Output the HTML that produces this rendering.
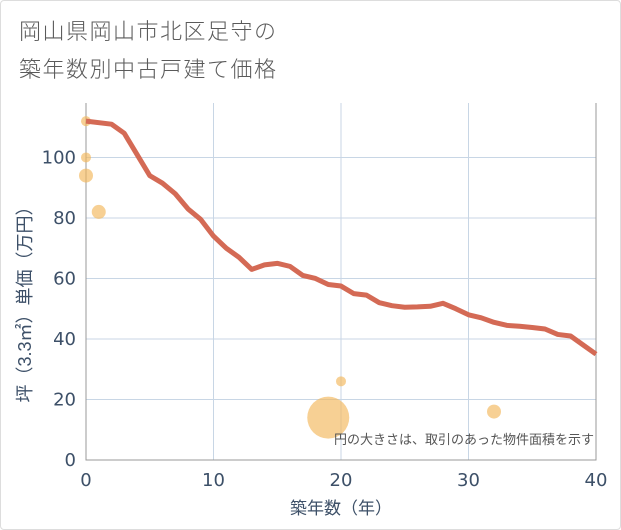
<!DOCTYPE html>
<html><head><meta charset="utf-8"><style>
body{margin:0;background:#fff;font-family:"Liberation Sans","Noto Sans CJK JP",sans-serif}
#wrap{position:relative;width:619px;height:528px;border:1px solid #ddd;border-radius:4px;overflow:hidden}
.t{position:absolute;left:18px;font-size:22px;color:#5a5a5a;letter-spacing:1.5px;font-weight:300}
</style></head><body>
<div id="wrap">
<div class="t" style="top:13px">岡山県岡山市北区足守の</div>
<div class="t" style="top:51px">築年数別中古戸建て価格</div>
<svg id="c" width="621" height="530" style="position:absolute;left:-1px;top:-1px"></svg>
</div>
<script>
const years=[0,2,3,4,5,6,7,8,9,10,11,12,13,14,15,16,17,18,19,20,21,22,23,24,25,26,27,28,29,30,31,32,33,34,35,36,37,38,39,40];
const prices=[112,111,108,101,94,91.5,88,83,79.5,74,70,67,63,64.5,65,64,61,60,58,57.5,55,54.5,52,51,50.5,50.6,50.8,51.8,50,48,47,45.5,44.5,44.2,43.8,43.3,41.5,41,38,35];
const bx=[0,0,0,1,19,20,32];
const by=[112,100,94,82,14,26,16];
const br=[5,5,7,7,21,5,7];
const xTicks=[0,10,20,30,40];
const yTicks=[0,20,40,60,80,100];
const L=86,R=596,T=103,B=460;
const X=v=>L+(R-L)*v/40, Y=v=>B-(B-T)*v/118;
const s=document.getElementById('c'),NS='http://www.w3.org/2000/svg';
function mk(t,a,p){const e=document.createElementNS(NS,t);for(const k in a)e.setAttribute(k,a[k]);(p||s).appendChild(e);return e;}
xTicks.forEach(v=>{const l=mk('line',{x1:X(v),x2:X(v),y1:T,y2:B,stroke:'#c8d6e5'});


const t=mk('text',{x:X(v),y:B+26,'text-anchor':'middle','font-size':18,fill:'#3d5068','font-family':'DejaVu Sans, sans-serif'});t.textContent=v;

});
yTicks.forEach(v=>{const l=mk('line',{x1:L,x2:R,y1:Y(v),y2:Y(v),stroke:'#c8d6e5'});


const t=mk('text',{x:L-10,y:Y(v)+6,'text-anchor':'end','font-size':18,fill:'#3d5068','font-family':'DejaVu Sans, sans-serif'});t.textContent=v;

});
const ax=mk('path',{d:`M${L},${T}V${B}H${R}V${T}`,fill:'none',stroke:'#999'});


bx.forEach((v,i)=>{const c=mk('circle',{cx:X(v),cy:Y(by[i]),r:br[i],fill:'#f2b75a','fill-opacity':0.65});

});
const ln=mk('polyline',{points:years.map((v,i)=>X(v)+','+Y(prices[i])).join(' '),fill:'none',stroke:'#d46a55','stroke-width':5,'stroke-linejoin':'round'});


const n=mk('text',{x:594,y:444,'text-anchor':'end','font-size':13,fill:'#555'});n.textContent='円の大きさは、取引のあった物件面積を示す';


const xt=mk('text',{x:341,y:514,'text-anchor':'middle','font-size':17,fill:'#3d5068'});xt.textContent='築年数（年）';


const yt=mk('text',{x:0,y:0,'text-anchor':'middle','font-size':18,fill:'#3d5068',transform:'translate(31,300) rotate(-90)'});yt.textContent='坪（3.3㎡）単価（万円）';


</script>
</body></html>
